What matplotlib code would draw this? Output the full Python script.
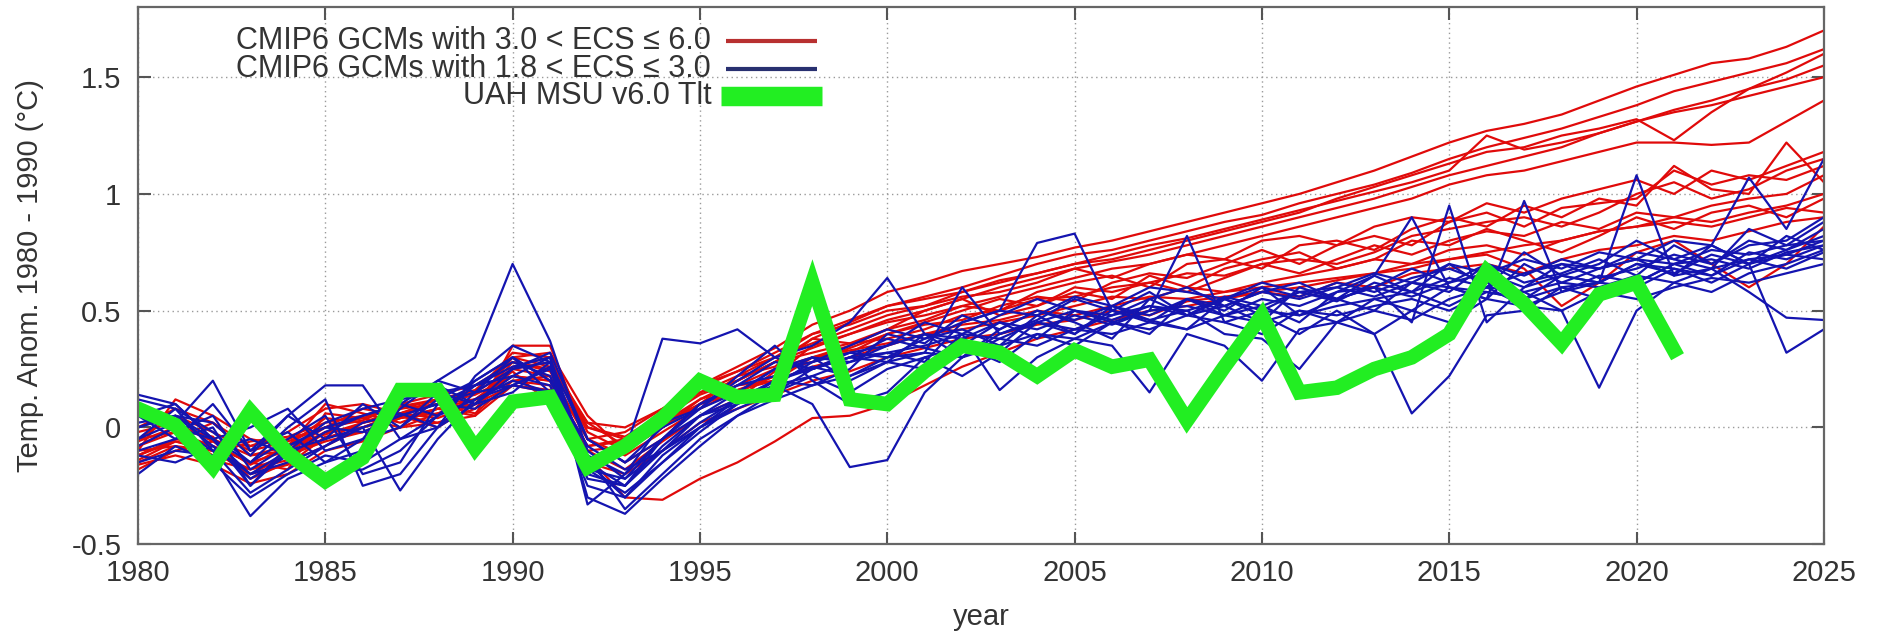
import numpy as np
import matplotlib
matplotlib.use("Agg")
import matplotlib.pyplot as plt
from matplotlib.ticker import FuncFormatter

plt.rcParams['font.family'] = ['Liberation Sans', 'DejaVu Sans']

years = list(range(1980, 2026))
uah_years = list(range(1980, 2022))

# UAH MSU v6.0 TLT annual anomalies
uah = [0.08, 0.01, -0.17, 0.07, -0.11, -0.23, -0.13, 0.16, 0.16, -0.09,
       0.11, 0.13, -0.17, -0.08, 0.04, 0.20, 0.13, 0.14, 0.62, 0.12,
       0.10, 0.24, 0.35, 0.32, 0.22, 0.33, 0.26, 0.29, 0.03, 0.26,
       0.48, 0.15, 0.17, 0.25, 0.30, 0.40, 0.67, 0.53, 0.36, 0.57,
       0.62, 0.33]

# CMIP6 models with 3.0 < ECS <= 6.0
red_01 = [-0.08, -0.02, -0.12, -0.06, -0.04, 0.02, 0.05, 0.08, 0.12, 0.15,
          0.25, 0.22, -0.05, -0.02, 0.08, 0.18, 0.26, 0.34, 0.44, 0.50,
          0.58, 0.62, 0.67, 0.70, 0.73, 0.77, 0.80, 0.84, 0.88, 0.92,
          0.96, 1.00, 1.05, 1.10, 1.16, 1.22, 1.27, 1.30, 1.34, 1.40,
          1.46, 1.51, 1.56, 1.58, 1.63, 1.70]
red_02 = [-0.12, -0.05, -0.08, -0.15, -0.10, -0.02, 0.00, 0.06, 0.10, 0.12,
          0.20, 0.18, -0.10, -0.08, 0.02, 0.12, 0.20, 0.28, 0.38, 0.45,
          0.52, 0.56, 0.60, 0.65, 0.70, 0.74, 0.76, 0.80, 0.84, 0.88,
          0.91, 0.96, 1.00, 1.04, 1.09, 1.15, 1.20, 1.24, 1.28, 1.33,
          1.38, 1.44, 1.48, 1.52, 1.56, 1.62]
red_03 = [-0.05, 0.05, -0.02, -0.10, -0.06, 0.00, 0.03, 0.10, 0.14, 0.18,
          0.28, 0.25, 0.00, -0.05, 0.05, 0.15, 0.22, 0.30, 0.36, 0.42,
          0.48, 0.52, 0.58, 0.62, 0.66, 0.70, 0.72, 0.76, 0.80, 0.84,
          0.88, 0.92, 0.98, 1.03, 1.08, 1.13, 1.18, 1.20, 1.25, 1.28,
          1.32, 1.23, 1.35, 1.45, 1.52, 1.60]
red_04 = [-0.10, -0.08, -0.14, -0.18, -0.12, -0.06, -0.02, 0.04, 0.08, 0.10,
          0.18, 0.15, -0.15, -0.10, 0.00, 0.10, 0.16, 0.22, 0.30, 0.35,
          0.42, 0.46, 0.52, 0.56, 0.60, 0.64, 0.68, 0.70, 0.74, 0.78,
          0.82, 0.86, 0.90, 0.94, 0.98, 1.04, 1.08, 1.10, 1.14, 1.18,
          1.22, 1.22, 1.21, 1.22, 1.31, 1.40]
red_05 = [-0.06, 0.00, -0.05, -0.12, -0.08, -0.03, 0.02, 0.06, 0.10, 0.14,
          0.22, 0.20, -0.08, -0.06, 0.04, 0.14, 0.20, 0.28, 0.34, 0.40,
          0.46, 0.50, 0.55, 0.60, 0.64, 0.68, 0.71, 0.74, 0.78, 0.82,
          0.86, 0.90, 0.94, 0.98, 1.03, 1.08, 1.12, 1.16, 1.20, 1.26,
          1.31, 1.35, 1.38, 1.42, 1.46, 1.50]
red_06 = [-0.02, 0.02, -0.06, -0.08, -0.05, 0.00, 0.04, 0.09, 0.12, 0.16,
          0.30, 0.26, 0.02, 0.00, 0.08, 0.17, 0.24, 0.32, 0.40, 0.46,
          0.52, 0.55, 0.58, 0.63, 0.66, 0.70, 0.74, 0.78, 0.81, 0.85,
          0.89, 0.93, 0.97, 1.01, 1.05, 1.10, 1.25, 1.19, 1.22, 1.26,
          1.31, 1.36, 1.40, 1.45, 1.49, 1.55]
red_07 = [-0.15, -0.08, -0.10, -0.20, -0.12, -0.05, 0.02, 0.05, 0.00, 0.10,
          0.30, 0.32, 0.05, -0.10, 0.00, 0.12, 0.18, 0.25, 0.30, 0.32,
          0.40, 0.45, 0.50, 0.55, 0.52, 0.60, 0.58, 0.62, 0.66, 0.65,
          0.70, 0.72, 0.70, 0.75, 0.82, 0.85, 0.88, 0.90, 0.86, 0.92,
          1.00, 1.05, 0.98, 1.02, 1.10, 1.15]
red_08 = [-0.10, 0.12, 0.05, -0.05, -0.08, 0.10, 0.06, 0.02, 0.08, 0.05,
          0.35, 0.35, -0.05, -0.15, -0.05, 0.10, 0.15, 0.22, 0.35, 0.40,
          0.45, 0.48, 0.52, 0.50, 0.58, 0.62, 0.65, 0.60, 0.70, 0.72,
          0.68, 0.78, 0.80, 0.76, 0.85, 0.90, 0.86, 0.95, 0.90, 0.98,
          0.95, 1.12, 1.02, 1.00, 1.22, 1.05]
red_09 = [-0.05, -0.02, -0.08, -0.15, -0.18, 0.06, 0.04, 0.00, 0.06, 0.12,
          0.22, 0.20, -0.08, -0.05, 0.05, 0.15, 0.20, 0.28, 0.32, 0.36,
          0.38, 0.42, 0.48, 0.50, 0.55, 0.56, 0.60, 0.62, 0.58, 0.64,
          0.70, 0.66, 0.72, 0.78, 0.74, 0.80, 0.84, 0.82, 0.88, 0.85,
          0.92, 0.90, 0.95, 0.98, 1.00, 1.08]
red_10 = [-0.12, -0.05, 0.02, -0.12, -0.10, 0.00, 0.08, 0.05, 0.02, 0.08,
          0.25, 0.28, 0.02, -0.08, 0.02, 0.10, 0.22, 0.26, 0.38, 0.36,
          0.42, 0.50, 0.55, 0.48, 0.52, 0.58, 0.55, 0.65, 0.60, 0.68,
          0.72, 0.75, 0.68, 0.72, 0.80, 0.78, 0.85, 0.80, 0.75, 0.82,
          0.90, 0.85, 0.92, 0.95, 0.90, 0.98]
red_11 = [-0.08, 0.00, -0.04, -0.22, -0.15, -0.08, 0.00, 0.04, 0.06, 0.10,
          0.28, 0.24, -0.05, -0.12, -0.02, 0.08, 0.16, 0.20, 0.26, 0.30,
          0.35, 0.40, 0.42, 0.45, 0.48, 0.52, 0.56, 0.55, 0.60, 0.58,
          0.62, 0.65, 0.68, 0.72, 0.70, 0.76, 0.78, 0.74, 0.80, 0.84,
          0.86, 0.88, 0.86, 0.90, 0.94, 0.92]
red_12 = [-0.18, -0.10, -0.06, -0.16, -0.08, 0.04, 0.02, 0.08, 0.10, 0.06,
          0.20, 0.22, -0.10, -0.18, -0.06, 0.05, 0.12, 0.24, 0.28, 0.34,
          0.40, 0.44, 0.46, 0.52, 0.56, 0.54, 0.62, 0.66, 0.64, 0.70,
          0.76, 0.70, 0.78, 0.82, 0.78, 0.88, 0.92, 0.86, 0.94, 0.96,
          0.98, 1.10, 1.04, 1.08, 1.06, 1.12]
red_13 = [-0.14, -0.06, -0.10, -0.18, -0.14, -0.02, 0.00, 0.06, 0.04, 0.10,
          0.26, 0.30, -0.02, -0.10, 0.00, 0.10, 0.18, 0.20, 0.30, 0.33,
          0.36, 0.40, 0.44, 0.46, 0.50, 0.48, 0.52, 0.56, 0.55, 0.58,
          0.60, 0.62, 0.64, 0.66, 0.70, 0.72, 0.74, 0.68, 0.52, 0.62,
          0.75, 0.80, 0.70, 0.60, 0.70, 0.86]
red_14 = [-0.12, -0.06, -0.10, -0.20, -0.16, -0.04, -0.02, 0.04, 0.08, 0.12,
          0.24, 0.10, -0.12, -0.30, -0.31, -0.22, -0.15, -0.06, 0.04, 0.05,
          0.10, 0.18, 0.26, 0.32, 0.38, 0.42, 0.46, 0.50, 0.52, 0.55,
          0.58, 0.60, 0.63, 0.66, 0.68, 0.72, 0.75, 0.78, 0.80, 0.84,
          0.86, 0.90, 0.88, 0.92, 0.95, 1.00]
red_15 = [0.00, 0.08, 0.02, -0.08, -0.02, 0.08, 0.10, 0.06, 0.12, 0.15,
          0.32, 0.30, 0.00, -0.04, 0.06, 0.18, 0.24, 0.30, 0.40, 0.44,
          0.50, 0.52, 0.56, 0.58, 0.62, 0.68, 0.64, 0.70, 0.74, 0.72,
          0.80, 0.82, 0.78, 0.86, 0.90, 0.88, 0.96, 0.92, 0.98, 1.02,
          1.06, 1.00, 1.10, 1.06, 1.12, 1.18]
red_16 = [-0.16, -0.12, -0.16, -0.24, -0.20, -0.10, -0.06, 0.00, 0.02, 0.05,
          0.18, 0.16, -0.15, -0.20, -0.10, 0.02, 0.08, 0.14, 0.20, 0.24,
          0.30, 0.34, 0.38, 0.40, 0.44, 0.46, 0.50, 0.48, 0.54, 0.56,
          0.58, 0.56, 0.62, 0.60, 0.66, 0.68, 0.70, 0.66, 0.72, 0.76,
          0.78, 0.82, 0.80, 0.84, 0.88, 0.90]

# CMIP6 models with 1.8 < ECS <= 3.0
blue_01 = [0.12, 0.08, -0.10, -0.05, -0.12, -0.02, 0.05, 0.10, 0.20, 0.30,
           0.70, 0.37, -0.10, -0.22, -0.05, 0.10, 0.18, 0.22, 0.30, 0.28,
           0.35, 0.40, 0.38, 0.45, 0.42, 0.48, 0.44, 0.50, 0.52, 0.48,
           0.55, 0.52, 0.58, 0.60, 0.56, 0.62, 0.66, 0.60, 0.70, 0.68,
           0.72, 0.70, 0.76, 0.74, 0.78, 0.80]
blue_02 = [-0.05, 0.02, 0.20, -0.10, 0.05, 0.18, 0.18, -0.05, 0.05, 0.20,
           0.30, 0.15, -0.20, -0.10, 0.38, 0.36, 0.42, 0.30, 0.35, 0.45,
           0.64, 0.40, 0.30, 0.42, 0.50, 0.45, 0.38, 0.55, 0.48, 0.52,
           0.45, 0.60, 0.55, 0.50, 0.62, 0.58, 0.70, 0.62, 0.66, 0.72,
           0.65, 0.78, 0.70, 0.80, 0.76, 0.82]
blue_03 = [0.10, 0.00, -0.05, -0.15, -0.05, 0.05, -0.20, -0.15, 0.10, 0.15,
           0.25, 0.28, -0.05, -0.15, -0.05, 0.05, 0.12, 0.20, 0.25, 0.30,
           0.32, 0.28, 0.45, 0.50, 0.79, 0.83, 0.50, 0.45, 0.55, 0.50,
           0.60, 0.48, 0.55, 0.65, 0.58, 0.70, 0.60, 0.75, 0.65, 0.70,
           0.80, 0.72, 0.68, 0.85, 0.78, 0.88]
blue_04 = [-0.10, -0.05, 0.00, -0.25, -0.10, -0.05, 0.00, -0.27, -0.05, 0.12,
           0.20, 0.15, -0.25, -0.30, -0.12, 0.00, 0.10, 0.18, 0.22, 0.15,
           0.25, 0.30, 0.35, 0.28, 0.40, 0.35, 0.45, 0.50, 0.82, 0.45,
           0.40, 0.50, 0.45, 0.55, 0.50, 0.60, 0.58, 0.55, 0.65, 0.62,
           0.70, 0.68, 0.65, 0.75, 0.72, 0.78]
blue_05 = [0.05, 0.10, -0.05, 0.00, 0.08, -0.10, -0.05, 0.15, 0.18, 0.10,
           0.15, 0.28, -0.15, -0.25, -0.08, 0.05, 0.15, 0.25, 0.30, 0.20,
           0.28, 0.40, 0.35, 0.45, 0.38, 0.50, 0.45, 0.40, 0.55, 0.48,
           0.52, 0.45, 0.58, 0.65, 0.90, 0.60, 0.55, 0.70, 0.62, 0.68,
           0.72, 0.65, 0.78, 0.70, 0.82, 0.76]
blue_06 = [-0.15, -0.10, -0.12, -0.38, -0.22, -0.15, -0.05, 0.00, 0.15, 0.18,
           0.22, 0.30, -0.33, -0.20, 0.02, 0.08, 0.20, 0.30, 0.25, 0.32,
           0.30, 0.38, 0.42, 0.35, 0.48, 0.40, 0.50, 0.46, 0.42, 0.55,
           0.48, 0.40, 0.50, 0.40, 0.06, 0.22, 0.48, 0.50, 0.60, 0.55,
           0.62, 0.70, 0.65, 0.72, 0.68, 0.75]
blue_07 = [0.00, 0.05, -0.08, -0.20, -0.15, -0.08, 0.00, 0.05, 0.10, 0.08,
           0.18, 0.25, -0.12, -0.35, -0.20, -0.05, 0.05, 0.15, 0.22, 0.28,
           0.32, 0.35, 0.40, 0.38, 0.45, 0.42, 0.48, 0.52, 0.50, 0.55,
           0.50, 0.58, 0.55, 0.60, 0.45, 0.95, 0.45, 0.60, 0.65, 0.62,
           0.70, 0.66, 0.74, 0.70, 0.76, 0.85]
blue_08 = [0.08, -0.02, 0.05, -0.18, -0.08, 0.00, 0.05, 0.10, 0.05, 0.18,
           0.28, 0.22, -0.18, -0.28, -0.15, -0.02, 0.10, 0.20, 0.18, 0.25,
           0.40, 0.36, 0.48, 0.42, 0.50, 0.46, 0.52, 0.48, 0.55, 0.52,
           0.58, 0.55, 0.60, 0.56, 0.62, 0.60, 0.55, 0.97, 0.58, 0.65,
           0.62, 0.70, 0.72, 0.68, 0.75, 0.78]
blue_09 = [-0.20, -0.08, -0.15, -0.30, -0.20, -0.12, -0.15, -0.05, 0.00, 0.15,
           0.18, 0.26, -0.30, -0.37, -0.22, -0.08, 0.05, 0.12, 0.18, 0.22,
           0.28, 0.32, 0.30, 0.38, 0.35, 0.42, 0.40, 0.45, 0.42, 0.48,
           0.45, 0.50, 0.48, 0.52, 0.55, 0.50, 0.58, 0.55, 0.60, 0.62,
           1.08, 0.65, 0.68, 0.72, 0.74, 0.80]
blue_10 = [0.00, 0.05, 0.02, -0.12, 0.05, -0.05, 0.10, 0.00, 0.12, 0.20,
           0.30, 0.20, -0.08, -0.18, -0.10, 0.00, 0.08, 0.15, 0.25, 0.30,
           0.38, 0.34, 0.30, 0.40, 0.46, 0.55, 0.50, 0.58, 0.48, 0.55,
           0.60, 0.56, 0.62, 0.58, 0.64, 0.68, 0.62, 0.58, 0.50, 0.17,
           0.50, 0.62, 0.58, 0.66, 0.70, 0.76]
blue_11 = [-0.08, 0.00, -0.10, -0.28, -0.18, -0.08, 0.02, 0.06, 0.00, 0.10,
           0.22, 0.18, -0.22, -0.25, -0.10, 0.02, 0.12, 0.18, 0.28, 0.35,
           0.42, 0.38, 0.45, 0.50, 0.48, 0.56, 0.52, 0.60, 0.58, 0.55,
           0.62, 0.58, 0.60, 0.66, 0.62, 0.70, 0.66, 0.72, 0.68, 0.75,
           0.72, 0.80, 0.78, 1.07, 0.85, 1.15]
blue_12 = [0.14, 0.10, -0.05, -0.20, -0.10, 0.02, 0.08, 0.12, 0.15, 0.10,
           0.25, 0.32, -0.05, -0.15, 0.00, 0.08, 0.15, 0.25, 0.28, 0.32,
           0.35, 0.45, 0.40, 0.48, 0.55, 0.50, 0.48, 0.55, 0.60, 0.52,
           0.58, 0.62, 0.55, 0.60, 0.68, 0.62, 0.70, 0.65, 0.72, 0.68,
           0.75, 0.72, 0.78, 0.70, 0.32, 0.42]
blue_13 = [-0.12, -0.15, -0.08, -0.22, -0.12, -0.20, -0.18, -0.10, 0.05, 0.12,
           0.18, 0.15, -0.18, -0.22, -0.10, 0.05, 0.10, 0.18, 0.10, -0.17,
           -0.14, 0.15, 0.30, 0.35, 0.40, 0.38, 0.45, 0.42, 0.48, 0.45,
           0.50, 0.48, 0.52, 0.55, 0.58, 0.52, 0.60, 0.58, 0.62, 0.60,
           0.65, 0.62, 0.68, 0.58, 0.47, 0.46]
blue_14 = [0.05, -0.05, 0.10, -0.10, -0.02, -0.15, -0.10, 0.08, 0.20, 0.15,
           0.30, 0.20, -0.12, -0.20, -0.05, 0.10, 0.18, 0.28, 0.25, 0.30,
           0.28, 0.25, 0.40, 0.16, 0.30, 0.38, 0.35, 0.15, 0.40, 0.35,
           0.20, 0.42, 0.45, 0.40, 0.50, 0.45, 0.55, 0.52, 0.50, 0.58,
           0.55, 0.60, 0.64, 0.62, 0.66, 0.70]
blue_15 = [-0.05, 0.08, -0.02, -0.15, 0.00, 0.12, -0.25, -0.20, 0.00, 0.22,
           0.35, 0.28, -0.20, -0.25, -0.05, 0.08, 0.22, 0.35, 0.20, 0.10,
           0.15, 0.30, 0.22, 0.32, 0.45, 0.40, 0.52, 0.46, 0.50, 0.40,
           0.38, 0.25, 0.45, 0.50, 0.46, 0.55, 0.60, 0.52, 0.58, 0.62,
           0.60, 0.68, 0.62, 0.70, 0.74, 0.72]
blue_16 = [0.02, 0.05, -0.05, -0.25, -0.08, 0.00, -0.02, 0.05, 0.10, 0.18,
           0.26, 0.30, -0.15, -0.30, -0.15, 0.00, 0.12, 0.20, 0.26, 0.22,
           0.30, 0.32, 0.60, 0.40, 0.45, 0.50, 0.46, 0.52, 0.48, 0.56,
           0.52, 0.58, 0.54, 0.62, 0.58, 0.64, 0.60, 0.66, 0.70, 0.64,
           0.68, 0.74, 0.70, 0.78, 0.80, 0.90]

red_runs = [red_01, red_02, red_03, red_04, red_05, red_06, red_07, red_08,
            red_09, red_10, red_11, red_12, red_13, red_14, red_15, red_16]
blue_runs = [blue_01, blue_02, blue_03, blue_04, blue_05, blue_06, blue_07, blue_08,
             blue_09, blue_10, blue_11, blue_12, blue_13, blue_14, blue_15, blue_16]

labels = ['CMIP6 GCMs with 3.0 < ECS ≤ 6.0',
          'CMIP6 GCMs with 1.8 < ECS ≤ 3.0',
          'UAH MSU v6.0 Tlt']

txt = '#333333'
fig = plt.figure(figsize=(18.77, 6.32), dpi=100)
ax = fig.add_axes([0.0735, 0.139, 0.8982, 0.8497])

for run in red_runs:
    ax.plot(years, run, color='#e00a0a', lw=1.6)
for run in blue_runs:
    ax.plot(years, run, color='#1414b0', lw=1.6)
ax.plot(uah_years, uah, color='#22ee22', lw=10.5, solid_joinstyle='miter')

ax.set_xlim(1980, 2025)
ax.set_ylim(-0.5, 1.8)
ax.set_xticks(range(1980, 2026, 5))
ax.set_yticks([-0.5, 0, 0.5, 1, 1.5])
ax.yaxis.set_major_formatter(FuncFormatter(lambda v, p: '%g' % v))
ax.tick_params(direction='in', length=9, width=1.5, top=True, right=True,
               labelsize=21, colors='#555555', labelcolor=txt)
ax.tick_params(axis='y', pad=12)
ax.tick_params(axis='x', pad=11)
ax.grid(True, linestyle=(0, (1, 2.5)), color='#9a9a9a', lw=1)
ax.set_axisbelow(True)
for s in ax.spines.values():
    s.set_color('#666666')
    s.set_linewidth(1.6)

ax.set_xlabel('year', fontsize=21, color=txt)
ax.xaxis.set_label_coords(0.5, -0.11)
ax.set_ylabel('Temp. Anom. 1980 - 1990 (°C)', fontsize=21, color=txt)
ax.yaxis.set_label_coords(-0.056, 0.5)

# legend in gnuplot style: right-justified text, sample to the right
rows = [0.937, 0.885, 0.834]
samples = [('#b83030', 3), ('#283070', 3), ('#22ee22', 14)]
for lab, yy, (c, w) in zip(labels, rows, samples):
    ax.text(0.340, yy, lab, transform=ax.transAxes, ha='right', va='center',
            fontsize=22, color=txt)
    x0, x1 = (0.349, 0.403) if w < 5 else (0.346, 0.406)
    ax.plot([x0, x1], [yy, yy], transform=ax.transAxes, color=c, lw=w,
            solid_capstyle='butt')

fig.savefig('out.png', dpi=100)
